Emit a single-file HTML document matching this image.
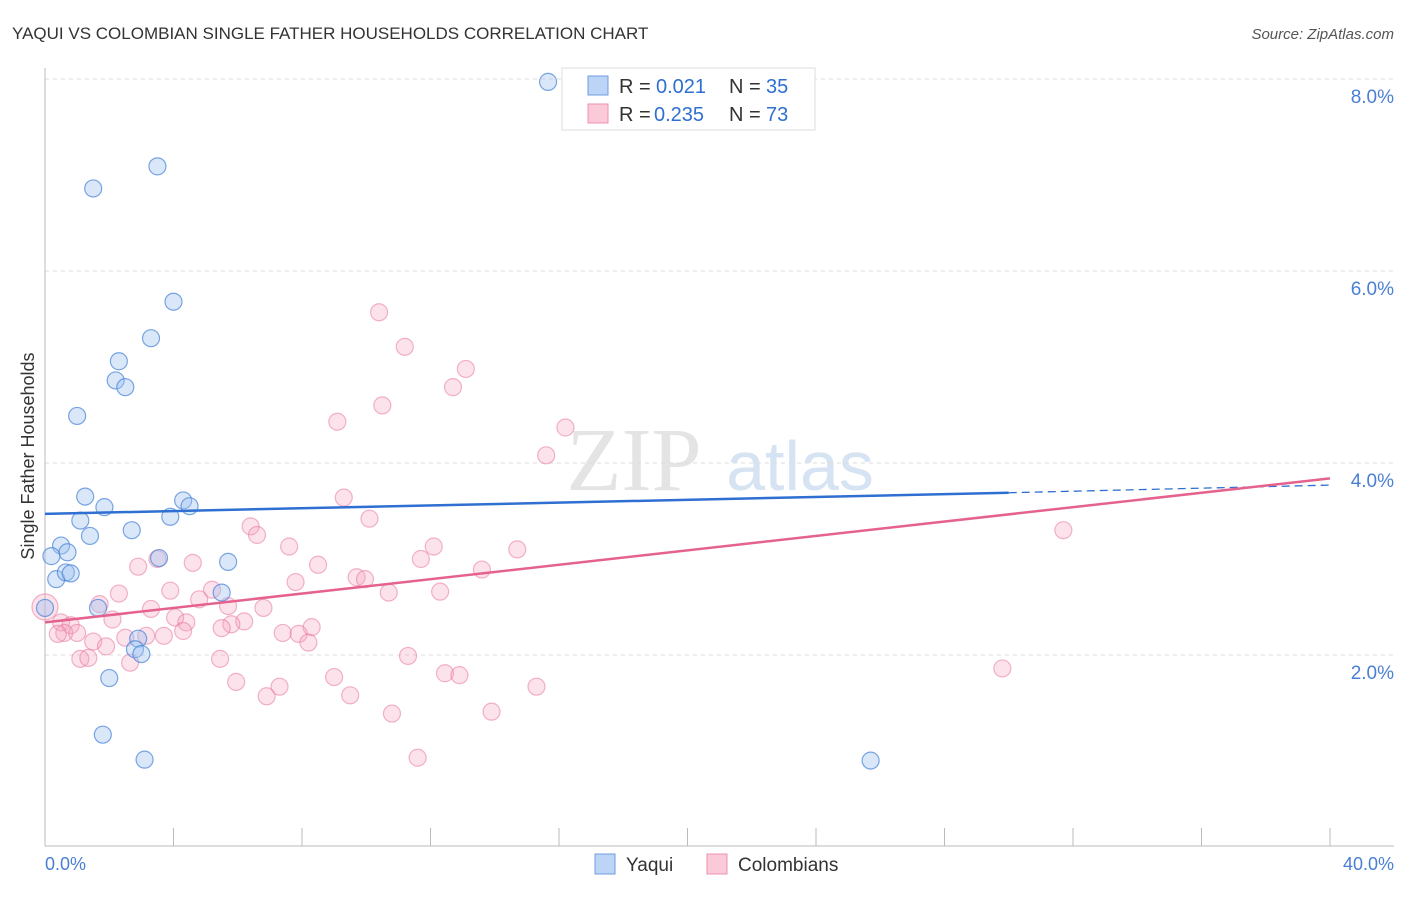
<!DOCTYPE html>
<html><head><meta charset="utf-8"><style>
body{margin:0;background:#fff;font-family:"Liberation Sans",sans-serif}
</style></head><body>
<svg width="1406" height="892" xmlns="http://www.w3.org/2000/svg">
<text x="12" y="39" font-size="17" fill="#333">YAQUI VS COLOMBIAN SINGLE FATHER HOUSEHOLDS CORRELATION CHART</text>
<text x="1394" y="39" font-size="15" fill="#555" text-anchor="end" font-style="italic">Source: ZipAtlas.com</text>
<text x="634" y="490" font-size="90" fill="#e4e4e4" font-family="Liberation Serif" text-anchor="middle">ZIP</text>
<text x="800" y="490" font-size="70" fill="#d6e3f3" text-anchor="middle">atlas</text>
<g id="grid"></g><g id="axes"></g><g id="pts"></g><g id="trend"></g>
<text transform="translate(34,456) rotate(-90)" font-size="18" fill="#333" text-anchor="middle">Single Father Households</text>
<text x="45" y="870" font-size="18" fill="#4a7fd4">0.0%</text>
<text x="1394" y="870" font-size="18" fill="#4a7fd4" text-anchor="end">40.0%</text>
<g>
<rect x="562" y="68" width="253" height="62" fill="#fff" stroke="#ddd"/>
<rect x="588" y="76" width="20" height="19" fill="#bcd4f5" stroke="#6f9ee0"/>
<rect x="588" y="104" width="20" height="19" fill="#fbcad8" stroke="#ee93b1"/>
<text x="619" y="93" font-size="20" fill="#333">R =</text><text x="656" y="93" font-size="20" fill="#2f6fd1">0.021</text>
<text x="729" y="93" font-size="20" fill="#333">N =</text><text x="766" y="93" font-size="20" fill="#2f6fd1">35</text>
<text x="619" y="121" font-size="20" fill="#333">R =</text><text x="654" y="121" font-size="20" fill="#2f6fd1">0.235</text>
<text x="729" y="121" font-size="20" fill="#333">N =</text><text x="766" y="121" font-size="20" fill="#2f6fd1">73</text>
</g>
<g>
<rect x="595" y="854" width="20" height="20" fill="#bcd4f5" stroke="#6f9ee0"/>
<text x="626" y="871" font-size="19" fill="#333">Yaqui</text>
<rect x="707" y="854" width="20" height="20" fill="#fbcad8" stroke="#ee93b1"/>
<text x="738" y="871" font-size="19" fill="#333">Colombians</text>
</g>
</svg>
<script>
const yTicks=[2,4,6,8];
const yaquiX=[15.66,3.5,1.5,4.0,3.3,2.3,2.2,2.5,1.0,1.25,1.85,4.3,4.5,1.1,1.4,2.7,3.9,0.5,0.7,0.2,3.55,5.7,0.35,0.65,0.8,5.5,1.65,0.0,2.9,2.8,3.0,2.0,1.8,3.1,25.7];
const yaquiY=[7.97,7.09,6.86,5.68,5.3,5.06,4.86,4.79,4.49,3.65,3.54,3.61,3.55,3.4,3.24,3.3,3.44,3.14,3.07,3.03,3.01,2.97,2.79,2.86,2.85,2.65,2.49,2.49,2.17,2.06,2.01,1.76,1.17,0.91,0.90];
const colX=[10.4,11.2,13.1,12.7,10.5,9.1,16.2,15.6,9.3,31.7,10.1,6.4,6.6,12.1,7.6,14.7,3.5,11.7,4.6,8.5,9.7,9.96,13.6,7.8,3.9,5.2,12.3,10.7,2.3,2.9,4.8,3.3,5.7,6.8,1.7,2.1,4.05,4.4,6.2,5.8,5.5,8.3,4.3,0.5,0.8,0.6,1.0,0.4,7.4,7.9,3.7,1.5,2.5,1.9,3.15,8.2,11.3,1.1,1.35,2.65,5.45,29.8,12.45,12.9,9.0,5.95,7.3,15.3,6.9,9.5,10.8,13.9,11.6,0.0];
const colY=[5.57,5.21,4.98,4.79,4.6,4.43,4.37,4.08,3.64,3.3,3.42,3.34,3.25,3.13,3.13,3.1,3.0,3.0,2.96,2.94,2.81,2.79,2.89,2.76,2.67,2.68,2.66,2.65,2.64,2.92,2.58,2.48,2.51,2.49,2.53,2.37,2.39,2.34,2.35,2.32,2.28,2.29,2.25,2.34,2.31,2.23,2.23,2.22,2.23,2.22,2.2,2.14,2.18,2.09,2.2,2.13,1.99,1.96,1.97,1.92,1.96,1.86,1.81,1.79,1.77,1.72,1.67,1.67,1.57,1.58,1.39,1.41,0.93,2.5];
const colR=colX.map((v,i)=>i===colX.length-1?13:8.5);
const yaquiTrend=[3.47,3.69,3.77], yaquiTrendX=[0,30,40];
const colTrend=[2.34,3.84], colTrendX=[0,40];
const X=v=>45+v/40*1285, Y=v=>847-v*96;
const NS='http://www.w3.org/2000/svg';
function mk(p,t,a){const e=document.createElementNS(NS,t);for(const k in a)e.setAttribute(k,a[k]);p.appendChild(e);return e;}
const grid=document.getElementById('grid'),axes=document.getElementById('axes'),pts=document.getElementById('pts'),tr=document.getElementById('trend');
yTicks.forEach(t=>{const l=mk(grid,'line',{x1:45,x2:1394,y1:Y(t),y2:Y(t),stroke:'#ddd','stroke-dasharray':'4,4'});


const tx=mk(grid,'text',{x:1394,y:Y(t)+24,'font-size':19,fill:'#4a7fd4','text-anchor':'end'});tx.textContent=t.toFixed(1)+'%';

});
const ax=mk(axes,'line',{x1:45,x2:45,y1:68,y2:846,stroke:'#bbb'});


const bx=mk(axes,'line',{x1:45,x2:1394,y1:846,y2:846,stroke:'#bbb'});


for(let i=0;i<=10;i++){const t=mk(axes,'line',{x1:X(i*4),x2:X(i*4),y1:828,y2:846,stroke:'#bbb'});

}
colX.forEach((v,i)=>{const c=mk(pts,'circle',{cx:X(v),cy:Y(colY[i]),r:colR[i],fill:'rgba(245,160,190,0.3)',stroke:'rgba(232,120,160,0.55)','stroke-width':1.2});

});
yaquiX.forEach((v,i)=>{const c=mk(pts,'circle',{cx:X(v),cy:Y(yaquiY[i]),r:8.5,fill:'rgba(160,195,240,0.4)',stroke:'rgba(70,130,215,0.7)','stroke-width':1.2});

});
const b1=mk(tr,'line',{x1:X(yaquiTrendX[0]),y1:Y(yaquiTrend[0]),x2:X(yaquiTrendX[1]),y2:Y(yaquiTrend[1]),stroke:'#2f6fd1','stroke-width':2.5});


const b2=mk(tr,'line',{x1:X(yaquiTrendX[1]),y1:Y(yaquiTrend[1]),x2:X(yaquiTrendX[2]),y2:Y(yaquiTrend[2]),stroke:'#2f6fd1','stroke-width':1.3,'stroke-dasharray':'8,5'});


const p1=mk(tr,'line',{x1:X(colTrendX[0]),y1:Y(colTrend[0]),x2:X(colTrendX[1]),y2:Y(colTrend[1]),stroke:'#e5628f','stroke-width':2.5});


</script>
</body></html>
